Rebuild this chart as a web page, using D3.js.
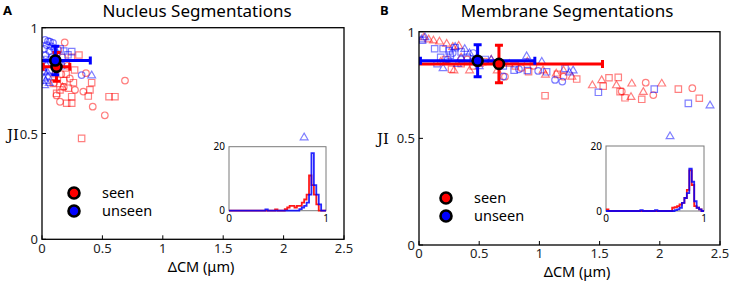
<!DOCTYPE html>
<html>
<head>
<meta charset="utf-8">
<script src="https://cdn.jsdelivr.net/npm/d3@7"></script>
<style>
  body { margin: 0; background: #fff; }
  svg { font-family: "Noto Sans", sans-serif; }
</style>
</head>
<body>
<div id="chart"></div>
<script>
// ---- data ----
const xTicks = [0, 0.5, 1, 1.5, 2, 2.5];
const yTicks = [0, 0.5, 1];
const insetXTicks = [0, 1];
const insetYTicks = [0, 20];
const groups = ["seen", "unseen"];

// [ΔCM, JI, marker]  o = circle, s = square, ^ = triangle
const nucleusSeen = [
  [0.135,0.895,"o"],[0.188,0.93,"o"],[0.17,0.86,"o"],[0.21,0.82,"o"],[0.149,0.65,"o"],[0.12,0.68,"o"],
  [0.18,0.72,"o"],[0.273,0.706,"o"],[0.342,0.698,"o"],[0.364,0.785,"o"],[0.42,0.627,"o"],[0.52,0.586,"o"],
  [0.687,0.75,"o"],[0.23,0.76,"o"],[0.1,0.74,"o"],[0.16,0.78,"o"],
  [0.306,0.871,"s"],[0.243,0.86,"s"],[0.411,0.74,"s"],[0.397,0.706,"s"],[0.383,0.677,"s"],[0.555,0.674,"s"],
  [0.604,0.674,"s"],[0.328,0.477,"s"],[0.149,0.706,"s"],[0.218,0.714,"s"],[0.246,0.674,"s"],[0.246,0.643,"s"],
  [0.204,0.643,"s"],[0.094,0.737,"s"],[0.121,0.69,"s"],[0.2,0.78,"s"],[0.27,0.8,"s"],[0.18,0.75,"s"],[0.26,0.74,"s"],
  [0.1,0.78,"^"],[0.17,0.72,"^"]
];
const nucleusUnseen = [
  [0.025,0.942,"o"],[0.05,0.936,"o"],[0.066,0.934,"o"],[0.039,0.918,"o"],[0.091,0.928,"o"],[0.077,0.912,"o"],
  [0.02,0.9,"o"],[0.06,0.89,"o"],[0.03,0.87,"o"],[0.1,0.9,"o"],[0.328,0.776,"o"],[0.12,0.88,"o"],[0.08,0.86,"o"],
  [0.246,0.887,"s"],[0.215,0.872,"s"],[0.15,0.9,"s"],[0.12,0.85,"s"],[0.18,0.89,"s"],[0.04,0.85,"s"],
  [0.2,0.83,"s"],[0.16,0.82,"s"],[0.06,0.8,"s"],
  [0.022,0.73,"^"],[0.017,0.762,"^"],[0.02,0.794,"^"],[0.036,0.825,"^"],[0.03,0.75,"^"],[0.05,0.77,"^"],
  [0.411,0.776,"^"],[0.06,0.74,"^"],[0.01,0.81,"^"],[0.045,0.79,"^"],[2.17,0.483,"^"]
];
const membraneSeen = [
  [0.04,0.975,"^"],[0.08,0.965,"^"],[0.12,0.96,"^"],[0.17,0.955,"^"],[0.23,0.945,"^"],[0.33,0.935,"^"],[0.28,0.93,"^"],
  [0.29,0.82,"^"],[0.42,0.82,"^"],[0.5,0.85,"^"],[0.6,0.87,"^"],[0.75,0.85,"^"],[0.9,0.86,"^"],[1.03,0.82,"^"],
  [1.05,0.8,"^"],[1.14,0.805,"^"],[1.2,0.82,"^"],[0.18,0.86,"^"],[0.35,0.88,"^"],[1.44,0.75,"^"],[1.517,0.774,"^"],
  [1.64,0.75,"^"],[1.767,0.758,"^"],[1.863,0.719,"^"],[2.016,0.758,"^"],[1.761,0.695,"^"],[1.27,0.79,"^"],[0.65,0.82,"^"],
  [0.27,0.824,"s"],[0.91,0.813,"s"],[1.31,0.778,"s"],[1.047,0.7,"s"],[1.53,0.745,"s"],[1.578,0.784,"s"],[1.655,0.786,"s"],
  [1.67,0.719,"s"],[1.711,0.69,"s"],[1.85,0.683,"s"],[2.154,0.731,"s"],[2.328,0.688,"s"],[0.22,0.87,"s"],[0.45,0.84,"s"],
  [0.8,0.84,"s"],[1.15,0.8,"s"],[0.35,0.85,"s"],
  [0.714,0.789,"o"],[1.2,0.789,"o"],[1.883,0.761,"o"],[1.946,0.703,"o"],[2.27,0.735,"o"],[1.684,0.72,"o"],
  [0.55,0.86,"o"],[0.85,0.83,"o"],[0.4,0.87,"o"],[0.95,0.84,"o"]
];
const membraneUnseen = [
  [0.03,0.96,"s"],[0.13,0.92,"s"],[0.2,0.92,"s"],[0.25,0.91,"s"],[0.3,0.925,"s"],[0.35,0.905,"s"],[0.18,0.88,"s"],
  [0.26,0.89,"s"],[0.4,0.88,"s"],[0.55,0.87,"s"],[0.7,0.84,"s"],[0.79,0.82,"s"],[0.9,0.818,"s"],[1.06,0.812,"s"],
  [1.213,0.828,"s"],[1.49,0.716,"s"],[1.954,0.731,"s"],[2.237,0.664,"s"],[0.15,0.85,"s"],[0.45,0.86,"s"],
  [0.02,0.965,"^"],[0.05,0.975,"^"],[0.3,0.93,"^"],[0.38,0.92,"^"],[0.42,0.9,"^"],[0.2,0.83,"^"],[0.6,0.87,"^"],
  [0.894,0.886,"^"],[1.02,0.86,"^"],[1.25,0.81,"^"],[1.28,0.82,"^"],[2.417,0.656,"^"],[2.085,0.511,"^"],
  [0.32,0.85,"^"],[0.5,0.84,"^"],
  [0.24,0.87,"o"],[0.35,0.87,"o"],[0.83,0.824,"o"],[0.99,0.816,"o"],[1.13,0.774,"o"],[1.19,0.766,"o"],
  [0.7,0.79,"o"],[0.28,0.9,"o"],[0.45,0.9,"o"]
];

// means with errors: [ΔCM, JI, ΔCM err, JI err]
const nucleusMeans = { seen: [0.12, 0.815, 0.11, 0.068], unseen: [0.11, 0.845, 0.29, 0.067] };
const membraneMeans = { seen: [0.664, 0.849, 0.86, 0.088], unseen: [0.487, 0.864, 0.475, 0.075] };

// JI histograms, 40 bins over [0, 1]
const histBins = 40;
const nucleusHistSeen = [0,0,0,0,0,0,0,0,0,0, 0,0,0,0,0,0,0,0,0,0.4, 0,0,0,0.5,1,1.5,1.5,1,1.5,1.5, 2.5,3.5,5,11,8,5,2,0,0,0];
const nucleusHistUnseen = [0,0,0,0,0,0,0,0,0,0, 0,0,0,0,0,0.4,0,0,0,0, 0,0,0,0,0,0,0,0,0,0.5, 1,1.5,2.5,5,18,8,5,2,0,0];
const membraneHistSeen = [0.5,0,0,0,0,0,0,0,0,0, 0,0,0,0,0,0,0,0,0,0, 0,0,0,0,0,0,0,1,1.2,1.5, 2,2.5,4,6.5,12.5,8,1.5,1,0.5,0];
const membraneHistUnseen = [0,0,0,0,0,0,0,0,0,0, 0,0,0,0,0.3,0,0,0,0,0, 0.3,0,0,0,0,0,0,0,0.3,0.5, 1,2.5,4,5.5,13,9,3,1,0.5,0];

// ---- layout ----
const width = 737, height = 281;
const colors = { seen: "#ff0000", unseen: "#0000ff" };
const lightColors = { seen: "rgba(255,0,0,0.5)", unseen: "rgba(0,0,255,0.5)" };

const panels = [
  { id: "A", title: "Nucleus Segmentations", titleX: 197, xLabelX: 201, jiX: 19, tickDy: 13.5, xLabelDy: 33,
    left: 42, right: 344, top: 27.7, bottom: 239.3,
    inset: { left: 229, right: 326, top: 146.7, bottom: 210.7 },
    legend: { x: 74, y: 193 },
    seen: nucleusSeen, unseen: nucleusUnseen, means: nucleusMeans,
    hist: { seen: nucleusHistSeen, unseen: nucleusHistUnseen } },
  { id: "B", title: "Membrane Segmentations", titleX: 567, xLabelX: 577, jiX: 389, tickDy: 13, xLabelDy: 32,
    left: 419, right: 720, top: 31.7, bottom: 245,
    inset: { left: 606, right: 704, top: 146, bottom: 211 },
    legend: { x: 446, y: 198 },
    seen: membraneSeen, unseen: membraneUnseen, means: membraneMeans,
    hist: { seen: membraneHistSeen, unseen: membraneHistUnseen } }
];

const svg = d3.select("#chart").append("svg")
  .attr("width", width)
  .attr("height", height);

function markerPath(shape){
  if (shape == "s") return "M-3.2,-3.2H3.2V3.2H-3.2Z";
  if (shape == "^") return "M0,-4L3.9,2.7H-3.9Z";
  return "M3.3,0A3.3,3.3 0 1,1 -3.3,0A3.3,3.3 0 1,1 3.3,0Z";
}

panels.forEach((p, pi) => {
  const x = d3.scaleLinear().domain([0, 2.5]).range([p.left, p.right]);
  const y = d3.scaleLinear().domain([0, 1]).range([p.bottom, p.top]);
  const g = svg.append("g").attr("class", `panel-${p.id}`);

  // clip for marks
  const clipId = `clip-${p.id}`;
  svg.append("clipPath").attr("id", clipId)
    .append("rect")
    .attr("x", p.left).attr("y", p.top)
    .attr("width", p.right - p.left).attr("height", p.bottom - p.top);

  // panel letter + title
  g.append("text")
    .attr("x", p.left - 39).attr("y", 15)
    .style("font-weight", "bold").style("font-size", "13px")
    .text(p.id);
  g.append("text")
    .attr("x", p.titleX).attr("y", 17)
    .attr("text-anchor", "middle")
    .style("font-size", "17px")
    .text(p.title);

  // scatter points
  const marks = g.append("g").attr("clip-path", `url(#${clipId})`);
  groups.forEach(k => {
    marks.selectAll(`.pt-${k}`)
      .data(p[k])
      .enter()
      .append("path")
      .attr("class", `pt-${k}`)
      .attr("d", d => markerPath(d[2]))
      .attr("transform", d => `translate(${x(d[0])},${y(d[1])})`)
      .attr("fill", "none")
      .attr("stroke", lightColors[k])
      .attr("stroke-width", 1.2);
  });

  // error bars (seen below unseen)
  groups.forEach(k => {
    const [mx, my, ex, ey] = p.means[k];
    const eb = marks.append("g")
      .attr("stroke", colors[k])
      .attr("stroke-width", 3)
      .attr("fill", "none");
    const cap = 4;
    eb.append("line").attr("x1", x(mx - ex)).attr("x2", x(mx + ex)).attr("y1", y(my)).attr("y2", y(my));
    eb.append("line").attr("x1", x(mx)).attr("x2", x(mx)).attr("y1", y(my - ey)).attr("y2", y(my + ey));
    [mx - ex, mx + ex].forEach(v => {
      eb.append("line").attr("x1", x(v)).attr("x2", x(v)).attr("y1", y(my) - cap).attr("y2", y(my) + cap);
    });
    [my - ey, my + ey].forEach(v => {
      eb.append("line").attr("x1", x(mx) - cap).attr("x2", x(mx) + cap).attr("y1", y(v)).attr("y2", y(v));
    });
  });
  groups.forEach(k => {
    const [mx, my] = p.means[k];
    g.append("circle")
      .attr("cx", x(mx)).attr("cy", y(my)).attr("r", 5)
      .attr("fill", colors[k])
      .attr("stroke", "black")
      .attr("stroke-width", 2.6);
  });

  // frame + inward ticks
  g.append("rect")
    .attr("x", p.left).attr("y", p.top)
    .attr("width", p.right - p.left).attr("height", p.bottom - p.top)
    .attr("fill", "none").attr("stroke", "black").attr("stroke-width", 1.3);
  g.selectAll(".xtick").data(xTicks).enter().append("line")
    .attr("x1", d => x(d)).attr("x2", d => x(d))
    .attr("y1", p.bottom).attr("y2", p.bottom - 4)
    .attr("stroke", "black").attr("stroke-width", 1);
  g.selectAll(".ytick").data(yTicks).enter().append("line")
    .attr("x1", p.left).attr("x2", p.left + 4)
    .attr("y1", d => y(d)).attr("y2", d => y(d))
    .attr("stroke", "black").attr("stroke-width", 1);
  g.selectAll(".xlab").data(xTicks).enter().append("text")
    .attr("x", d => x(d)).attr("y", p.bottom + p.tickDy)
    .attr("text-anchor", "middle")
    .style("font-size", "13px").attr("fill", "#222")
    .text(d => d);
  g.selectAll(".ylab").data(yTicks).enter().append("text")
    .attr("x", p.left - 4).attr("y", d => y(d) + 5)
    .attr("text-anchor", "end")
    .style("font-size", "13px").attr("fill", "#222")
    .text(d => d);

  // axis labels
  g.append("text")
    .attr("x", p.xLabelX).attr("y", p.bottom + p.xLabelDy)
    .attr("text-anchor", "middle")
    .style("font-size", "14.5px")
    .text("ΔCM (μm)");
  g.append("text")
    .attr("x", p.jiX).attr("y", y(0.5) + 6)
    .attr("text-anchor", "end")
    .style("font-family", "'DejaVu Serif', serif")
    .style("font-size", "15px")
    .text("JI");

  // legend
  groups.forEach((k, i) => {
    const ly = p.legend.y + i * 18;
    g.append("circle")
      .attr("cx", p.legend.x).attr("cy", ly).attr("r", 5.5)
      .attr("fill", colors[k]).attr("stroke", "black").attr("stroke-width", 2.6);
    g.append("text")
      .attr("x", p.legend.x + 28).attr("y", ly + 5)
      .style("font-size", "14.5px")
      .text(k);
  });

  // inset histogram
  const ins = p.inset;
  const hx = d3.scaleLinear().domain([0, 1]).range([ins.left, ins.right]);
  const hy = d3.scaleLinear().domain([0, 20]).range([ins.bottom, ins.top]);
  const ig = g.append("g");
  ig.append("rect")
    .attr("x", ins.left).attr("y", ins.top)
    .attr("width", ins.right - ins.left).attr("height", ins.bottom - ins.top)
    .attr("fill", "white").attr("stroke", "#7a7a7a").attr("stroke-width", 1);
  const line = d3.line().x(d => hx(d[0])).y(d => hy(d[1])).curve(d3.curveStepAfter);
  groups.forEach(k => {
    const counts = p.hist[k];
    const pts = counts.map((c, i) => [i / histBins, c]);
    pts.push([1, counts[counts.length - 1]]);
    ig.append("path")
      .attr("d", line(pts))
      .attr("fill", "none")
      .attr("stroke", colors[k])
      .attr("stroke-opacity", k == "seen" ? 0.9 : 0.85)
      .attr("stroke-width", 1.8);
  });
  ig.selectAll(".ixlab").data(insetXTicks).enter().append("text")
    .attr("x", d => hx(d)).attr("y", ins.bottom + 11)
    .attr("text-anchor", "middle").style("font-size", "10px")
    .text(d => d);
  ig.selectAll(".iylab").data(insetYTicks).enter().append("text")
    .attr("x", ins.left - 4).attr("y", d => hy(d) + 3.5)
    .attr("text-anchor", "end").style("font-size", "10px")
    .text(d => d);
});
</script>
</body>
</html>
